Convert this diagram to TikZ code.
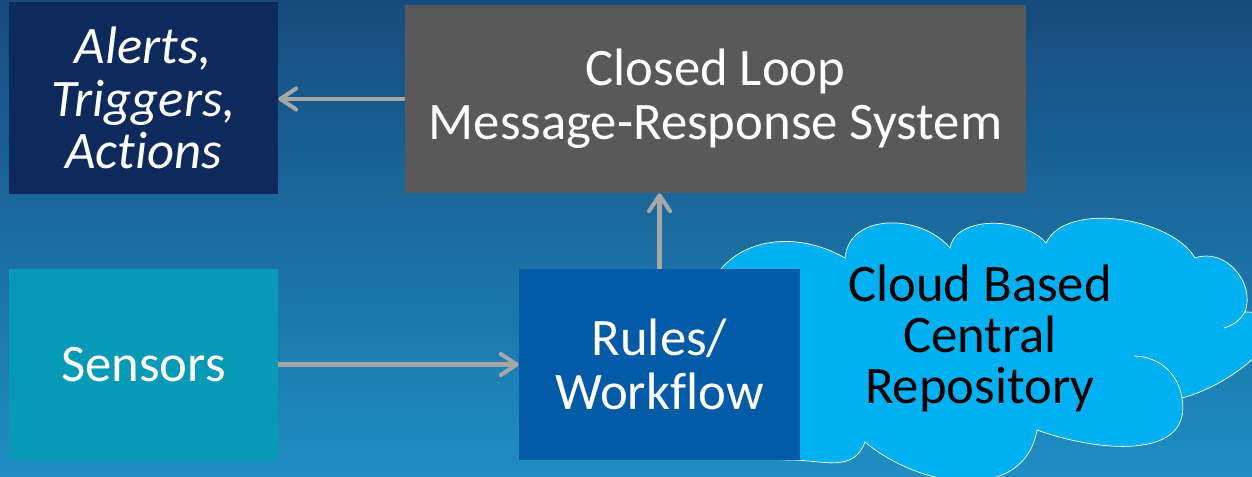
\documentclass[tikz,border=0pt]{standalone}
\usepackage{fontspec}
\setmainfont{Carlito}[Ligatures=NoCommon]
\usetikzlibrary{arrows.meta}

\definecolor{bgtop}{HTML}{174B7D}
\definecolor{bgbottom}{HTML}{1F8EC3}
\definecolor{alertblue}{HTML}{0E2A5C}
\definecolor{loopgray}{HTML}{595959}
\definecolor{sensorteal}{HTML}{079AB6}
\definecolor{rulesblue}{HTML}{035AA6}
\definecolor{cloudblue}{HTML}{00B0F0}
\definecolor{linkgray}{HTML}{A6A6A6}

\tikzset{
    block/.style={inner sep=0pt, align=center, text=white,
        font=\fontsize{30}{31}\selectfont},
    link/.style={draw=linkgray, line width=2.3pt,
        -{Straight Barb[length=9pt,width=12pt,round]}},
}

\begin{document}
\begin{tikzpicture}
    % background
    \useasboundingbox (0,0) rectangle (25.04,9.54);
    \fill[top color=bgtop, bottom color=bgbottom] (0,0) rectangle (25.04,9.54);

    % cloud
    \draw[white, thin, fill=cloudblue, looseness=1.1]
        (14.10,3.54) to[out=75,in=150] (16.90,4.38)
        to[out=85,in=130] (19.00,4.58)
        to[out=80,in=130,looseness=0.9] (20.92,4.68)
        to[out=65,in=120,looseness=0.8] (23.90,4.38)
        to[out=20,in=70] (24.90,3.30)
        to[out=0,in=15,looseness=1.6] (23.64,1.58)
        to[out=-80,in=-20] (20.74,0.94)
        to[out=-100,in=-40] (17.30,0.70)
        to[out=-110,in=0] (15.80,0.34)
        to[out=180,in=-100] cycle;
    \draw[white, thin] (22.68,2.42) to[bend left=40] (23.64,1.58);
    \draw[white, thin] (24.90,3.30) to[bend left=20] (24.48,2.98);
    \node [block, text=black, font=\fontsize{30}{29}\selectfont] (repo) at (19.6,2.78)
        {Cloud Based\\Central\\Repository};

    % alerts
    \node [block, fill=alertblue,
        minimum width=5.38cm,
        minimum height=3.84cm,
        font=\fontsize{30}{30}\selectfont\itshape,
    ] (alerts) at (2.87,7.58){Alerts,\\Triggers,\\Actions};

    % closed loop
    \node [block, fill=loopgray,
        minimum width=12.42cm,
        minimum height=3.76cm,
    ] (loop) at (14.31,7.56){Closed Loop\\Message-Response System};

    % sensors
    \node [block, fill=sensorteal,
        minimum width=5.38cm,
        minimum height=3.82cm,
    ] (sensors) at (2.87,2.25){Sensors};

    % rules
    \node [block, fill=rulesblue,
        minimum width=5.62cm,
        minimum height=3.82cm,
    ] (rules) at (13.19,2.25){Rules/\\Workflow};

    \draw[link] (loop.west) -- (loop.west -| alerts.east);
    \draw[link] (sensors.east) -- (rules.west);
    \draw[link] (rules.north) -- (rules.north |- loop.south);
\end{tikzpicture}
\end{document}
